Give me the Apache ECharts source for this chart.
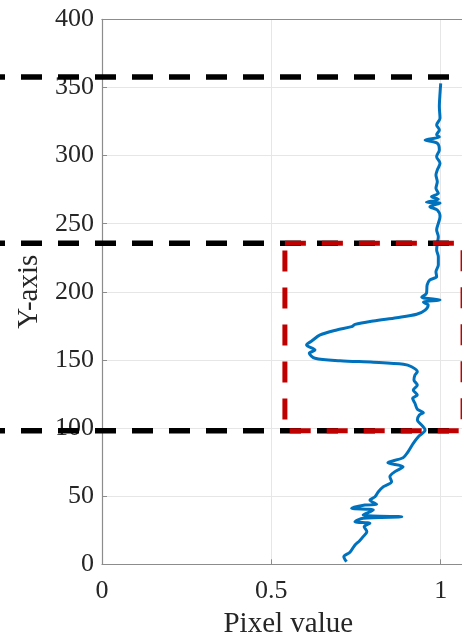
<!DOCTYPE html>
<html>
<head>
<meta charset="utf-8">
<script src="https://cdn.jsdelivr.net/npm/echarts@6/dist/echarts.min.js"></script>
<style>
html,body{margin:0;padding:0;background:#fff;overflow:hidden;width:462px;height:638px;}
#c{width:500px;height:638px;}
</style>
</head>
<body>
<div id="c"></div>
<script>
// ---- data ----
const pixelValue = [0.722,0.714,0.732,0.747,0.760,0.771,0.782,0.774,0.791,0.747,0.771,0.885,0.771,0.801,0.737,0.776,0.811,0.791,0.806,0.816,0.831,0.855,0.850,0.865,0.889,0.844,0.889,0.903,0.919,0.934,0.954,0.944,0.931,0.937,0.949,0.931,0.924,0.917,0.931,0.919,0.931,0.921,0.924,0.931,0.914,0.890,0.801,0.703,0.629,0.612,0.629,0.604,0.619,0.644,0.693,0.737,0.747,0.801,0.870,0.929,0.954,0.963,0.949,0.998,0.944,0.958,0.960,0.968,0.988,0.986,0.993,0.993,0.988,0.990,0.993,0.988,0.993,0.998,0.990,0.968,0.998,0.958,0.993,0.973,0.993,0.986,0.990,0.986,0.990,0.998,0.988,0.996,0.990,0.954,0.996,0.988,0.996,0.988,0.998,0.996,0.998,1.000];
const yPosition = [1.9,5.6,8.8,14.2,17.1,20.3,23.9,27.6,30.1,31.3,33.8,34.9,36.2,39.9,41.1,43.5,44.0,47.2,49.6,53.3,57.0,60.6,64.3,68.0,71.6,74.5,78.2,82.4,88.8,93.7,98.6,102.2,105.9,109.6,111.3,113.8,118.2,121.8,124.3,127.9,131.6,135.3,138.9,141.4,145.0,146.8,148.3,149.4,151.2,154.9,157.3,161.0,163.9,168.3,172.0,174.4,176.1,178.6,181.0,183.5,186.6,190.3,192.3,194.0,196.0,198.9,205.0,208.7,211.1,214.8,219.7,225.8,230.7,235.6,240.4,245.4,250.3,255.1,260.0,262.5,265.0,265.7,267.9,269.8,272.3,276.0,280.8,285.7,289.4,294.3,299.2,304.1,309.0,311.4,313.6,315.2,318.8,322.5,327.3,335.9,345.7,353.0];
const thresholdY = [357.6, 235.6, 98.0];
const roiX = [0.54, 1.066];
const roiY = [98.0, 235.6];
const xTicks = [0, 0.5, 1];
const yTicks = [0, 50, 100, 150, 200, 250, 300, 350, 400];
const xName = 'Pixel value';
const yName = 'Y-axis';

// ---- layout ----
const X_MIN = 0, X_MAX = 1.1;
const PX_PER_X = 338.7;
const GL = 102, GT = 19.3, GH = 545;
const fullMin = -GL / PX_PER_X;
const fullMax = (470 - GL) / PX_PER_X;
const FONT = '"Liberation Serif","Times New Roman",serif';
const TXT = '#262626';
const AX = '#8c8c8c';

const curve = pixelValue.map((v, i) => [v, yPosition[i]]);
const spanX = [fullMin, fullMax];

const series = [{
  type: 'line', xAxisIndex: 0, yAxisIndex: 0,
  data: curve, showSymbol: false, smooth: 0.3,
  lineStyle: {color: '#0072BD', width: 3}, z: 3, silent: true
}];
thresholdY.forEach((y) => {
  series.push({
    type: 'line', xAxisIndex: 2, yAxisIndex: 1,
    data: [[spanX[0], y], [spanX[1], y]], showSymbol: false,
    lineStyle: {color: '#000', width: 5.5, type: [21, 16], dashOffset: 16},
    z: 5, silent: true
  });
});
series.push({
  type: 'line', xAxisIndex: 2, yAxisIndex: 1,
  data: [[roiX[0], roiY[1]], [roiX[1], roiY[1]], [roiX[1], roiY[0]], [roiX[0], roiY[0]], [roiX[0], roiY[1]]],
  showSymbol: false,
  lineStyle: {color: '#c00000', width: 5, type: [21, 16], dashOffset: 0},
  z: 6, silent: true
});

const chart = echarts.init(document.getElementById('c'), null, {renderer: 'canvas'});
chart.setOption({
  animation: false,
  backgroundColor: '#fff',
  grid: [
    {left: GL, top: GT, width: (X_MAX - X_MIN) * PX_PER_X, height: GH, containLabel: false, outerBoundsMode: 'none'},
    {left: 0, top: GT, width: 470, height: GH, containLabel: false, outerBoundsMode: 'none'}
  ],
  xAxis: [
    {type: 'value', gridIndex: 0, min: X_MIN, max: X_MAX, interval: 0.5,
     name: xName, nameLocation: 'middle', nameGap: 46,
     nameTextStyle: {fontFamily: FONT, fontSize: 29, color: TXT},
     axisLine: {show: true, onZero: false, lineStyle: {color: AX, width: 1.2}},
     axisTick: {show: true, inside: true, length: 5, lineStyle: {color: AX}},
     axisLabel: {fontFamily: FONT, fontSize: 26, color: TXT, margin: 14,
       formatter: (v) => xTicks.some(t => Math.abs(t - v) < 1e-9) ? String(v) : ''},
     splitLine: {show: true, lineStyle: {color: '#e6e6e6', width: 1}}},
    {type: 'value', gridIndex: 0, position: 'top', min: X_MIN, max: X_MAX, interval: 0.5,
     axisLine: {show: true, onZero: false, lineStyle: {color: AX, width: 1.2}},
     axisTick: {show: false}, axisLabel: {show: false}, splitLine: {show: false}},
    {type: 'value', gridIndex: 1, min: spanX[0], max: spanX[1], show: false}
  ],
  yAxis: [
    {type: 'value', gridIndex: 0, min: yTicks[0], max: yTicks[yTicks.length - 1], interval: 50,
     name: yName, nameLocation: 'middle', nameGap: 51, nameRotate: 90,
     nameTextStyle: {fontFamily: FONT, fontSize: 29, color: TXT},
     axisLine: {show: true, onZero: false, lineStyle: {color: AX, width: 1.2}},
     axisTick: {show: true, inside: true, length: 5, lineStyle: {color: AX}},
     axisLabel: {fontFamily: FONT, fontSize: 26, color: TXT, margin: 8},
     splitLine: {show: true, lineStyle: {color: '#e6e6e6', width: 1}}},
    {type: 'value', gridIndex: 1, min: yTicks[0], max: yTicks[yTicks.length - 1], show: false}
  ],
  series: series
});
</script>
</body>
</html>
